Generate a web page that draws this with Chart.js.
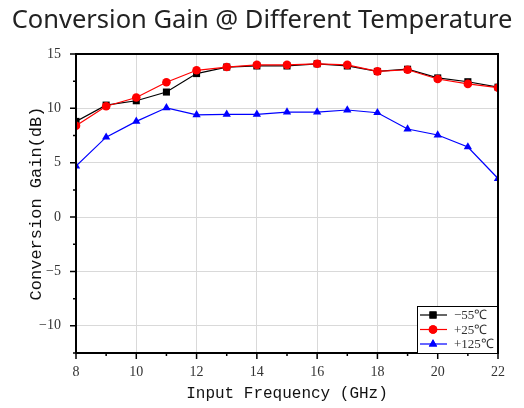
<!DOCTYPE html>
<html>
<head>
<meta charset="utf-8">
<script src="https://cdn.jsdelivr.net/npm/chart.js@4.4.0/dist/chart.umd.min.js"></script>
<style>
  html, body { margin: 0; padding: 0; background: #fff; }
  #wrap { width: 524px; height: 408px; }
</style>
</head>
<body>
<div id="wrap"><canvas id="gainChart" width="524" height="408"></canvas></div>
<script>
// frequency points (GHz)
var freqs = [8, 9, 10, 11, 12, 13, 14, 15, 16, 17, 18, 19, 20, 21, 22];
// conversion gain (dB) per temperature
var gainM55 = [8.8, 10.3, 10.7, 11.5, 13.2, 13.8, 13.9, 13.9, 14.1, 13.9, 13.4, 13.6, 12.8, 12.45, 11.95];
var gainP25 = [8.4, 10.2, 11.0, 12.4, 13.5, 13.8, 14.0, 14.0, 14.1, 14.0, 13.4, 13.55, 12.7, 12.25, 11.9];
var gainP125 = [4.7, 7.35, 8.8, 10.05, 9.4, 9.45, 9.45, 9.65, 9.65, 9.85, 9.6, 8.1, 7.55, 6.45, 3.55];
var seriesLabels = ['\u221255\u2103', '+25\u2103', '+125\u2103'];
var xTicks = [8, 10, 12, 14, 16, 18, 20, 22];
var yTicks = [-10, -5, 0, 5, 10, 15];

function toPoints(ys) {
    var pts = [];
    for (var i in freqs) {
        pts.push({x: freqs[i], y: ys[i]});
    }
    return pts;
}

var serifFont = "'Liberation Serif', 'Times New Roman', serif";
var monoFont = "'Liberation Mono', 'Courier New', monospace";

// frame, minor/major ticks and the boxed legend in the corner
var framePlugin = {
    id: 'frame',
    afterDraw: function (chart) {
        var ctx = chart.ctx;
        var a = chart.chartArea;
        var xs = chart.scales.x, ys = chart.scales.y;
        ctx.save();
        ctx.strokeStyle = '#000';
        ctx.lineWidth = 2;
        ctx.beginPath();
        ctx.moveTo(a.left, a.bottom);
        ctx.lineTo(a.left, a.top);
        ctx.lineTo(a.right, a.top);
        ctx.lineTo(a.right, a.bottom);
        ctx.lineTo(a.left, a.bottom);
        ctx.stroke();

        ctx.lineWidth = 1.5;
        ctx.beginPath();
        for (var v = 8; v <= 22; v += 1) {
            var px = xs.getPixelForValue(v);
            var len = (v % 2 === 0) ? 6 : 3;
            ctx.moveTo(px, a.bottom);
            ctx.lineTo(px, a.bottom + len);
        }
        for (var w = -12.5; w <= 15; w += 2.5) {
            var py = ys.getPixelForValue(w);
            var l2 = (w % 5 === 0) ? 6 : 3;
            ctx.moveTo(a.left, py);
            ctx.lineTo(a.left - l2, py);
        }
        ctx.stroke();

        // legend box
        var bw = 81, bh = 47;
        var bx = a.right - bw, by = a.bottom - bh;
        ctx.fillStyle = '#fff';
        ctx.fillRect(bx, by, bw, bh);
        ctx.strokeStyle = '#000';
        ctx.lineWidth = 1;
        ctx.strokeRect(bx + 0.5, by + 0.5, bw - 1, bh);
        ctx.font = '13px ' + serifFont;
        ctx.textBaseline = 'middle';
        ctx.textAlign = 'left';
        chart.data.datasets.forEach(function (ds, i) {
            var ry = by + 9 + i * 14.5;
            ctx.strokeStyle = ds.borderColor;
            ctx.lineWidth = 1.2;
            ctx.beginPath();
            ctx.moveTo(bx + 3, ry);
            ctx.lineTo(bx + 30, ry);
            ctx.stroke();
            ctx.fillStyle = ds.backgroundColor;
            Chart.helpers.drawPoint(ctx, {pointStyle: ds.pointStyle, radius: ds.pointRadius, borderWidth: 0, rotation: 0}, bx + 16, ry);
            ctx.fill();
            ctx.fillStyle = '#333';
            ctx.fillText(ds.label, bx + 37, ry + 1);
        });
        ctx.restore();
    }
};

var graphTarget = document.getElementById('gainChart');

var lineGraph = new Chart(graphTarget, {
    type: 'line',
    data: {
        datasets: [{
            label: seriesLabels[0],
            data: toPoints(gainM55),
            borderColor: '#000',
            backgroundColor: '#000',
            borderWidth: 1.2,
            pointStyle: 'rect',
            pointRadius: 5,
            pointBorderWidth: 0,
            order: 2
        }, {
            label: seriesLabels[1],
            data: toPoints(gainP25),
            borderColor: '#ff0000',
            backgroundColor: '#ff0000',
            borderWidth: 1.2,
            pointStyle: 'circle',
            pointRadius: 4.3,
            pointBorderWidth: 0,
            order: 1
        }, {
            label: seriesLabels[2],
            data: toPoints(gainP125),
            borderColor: '#0000ff',
            backgroundColor: '#0000ff',
            borderWidth: 1.2,
            pointStyle: 'triangle',
            pointRadius: 4.8,
            pointBorderWidth: 0,
            order: 0
        }]
    },
    options: {
        responsive: false,
        animation: false,
        layout: {padding: 0},
        plugins: {
            legend: {display: false},
            tooltip: {enabled: false},
            title: {
                display: true,
                text: 'Conversion Gain @ Different Temperature',
                color: '#222',
                font: {family: "'Noto Sans', sans-serif", size: 25.5, weight: 'normal'},
                padding: {top: 5, bottom: 18.4}
            }
        },
        scales: {
            x: {
                type: 'linear',
                min: 8,
                max: 22,
                afterBuildTicks: function (scale) {
                    scale.ticks = xTicks.map(function (v) { return {value: v}; });
                },
                afterFit: function (scale) { scale.height = 55; },
                grid: {color: '#d9d9d9', lineWidth: 1, drawTicks: false},
                border: {display: false},
                ticks: {
                    padding: 11,
                    color: '#333',
                    font: {family: serifFont, size: 14},
                    maxRotation: 0
                },
                title: {
                    display: true,
                    text: 'Input Frequency (GHz)',
                    color: '#111',
                    font: {family: monoFont, size: 16},
                    padding: {top: 0, bottom: 5}
                }
            },
            y: {
                type: 'linear',
                min: -12.5,
                max: 15,
                afterBuildTicks: function (scale) {
                    scale.ticks = yTicks.map(function (v) { return {value: v}; });
                },
                afterFit: function (scale) { scale.width = 76; },
                grid: {color: '#d9d9d9', lineWidth: 1, drawTicks: false},
                border: {display: false},
                ticks: {
                    padding: 15,
                    color: '#333',
                    font: {family: serifFont, size: 14},
                    callback: function (v) { return v < 0 ? '\u2212' + Math.abs(v) : String(v); }
                },
                title: {
                    display: true,
                    text: 'Conversion Gain(dB)',
                    color: '#111',
                    font: {family: monoFont, size: 17},
                    padding: {top: 26, bottom: 0}
                }
            },
            // empty right-hand gutter so the title centres on the whole canvas
            gutter: {
                type: 'linear',
                position: 'right',
                min: -12.5,
                max: 15,
                afterFit: function (scale) { scale.width = 26; },
                grid: {display: false, drawTicks: false},
                border: {display: false},
                ticks: {display: false}
            }
        }
    },
    plugins: [framePlugin]
});
</script>
</body>
</html>
